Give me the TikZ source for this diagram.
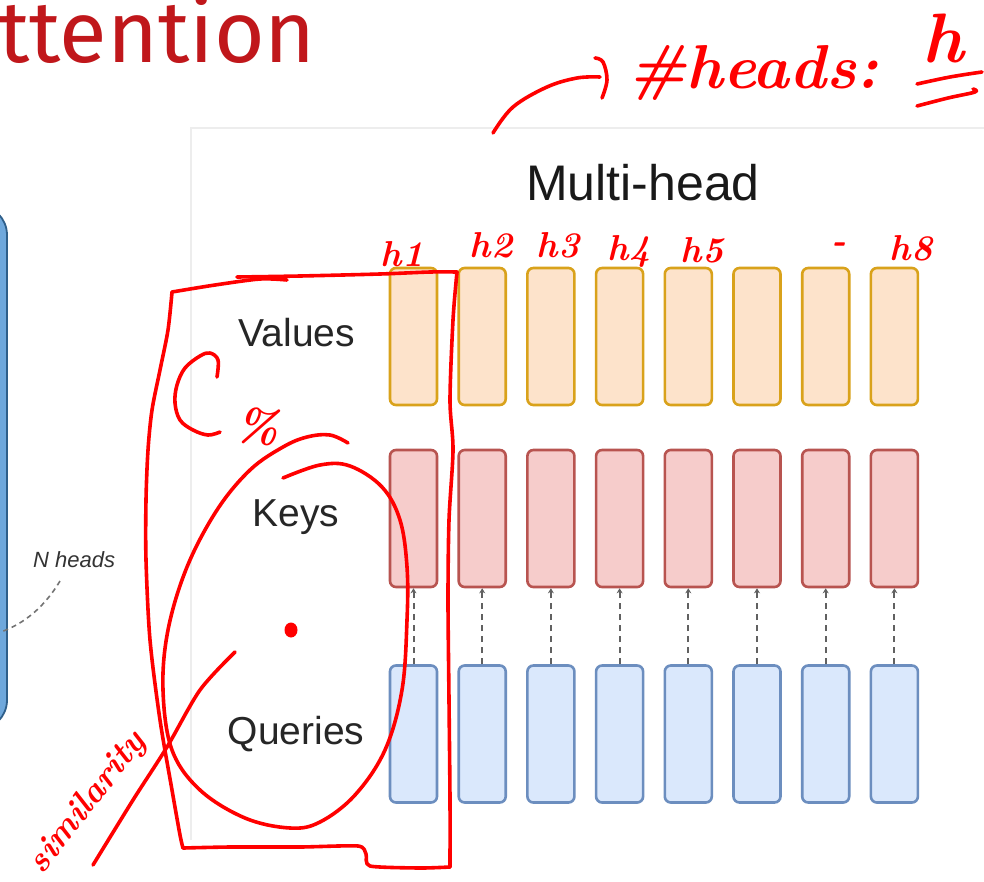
\documentclass[tikz,border=0pt]{standalone}
\usepackage{fontspec}
\setmainfont{Liberation Sans}
\newfontfamily\titlefont{Fira Sans}
\newfontfamily\handfont{Latin Modern Roman}
\usetikzlibrary{arrows.meta}

\definecolor{titlered}{RGB}{192,23,27}
\definecolor{pen}{RGB}{255,0,0}
\definecolor{valfill}{HTML}{FDE3CB}
\definecolor{valdraw}{HTML}{D9A21B}
\definecolor{keyfill}{HTML}{F6CCCB}
\definecolor{keydraw}{HTML}{B85450}
\definecolor{qfill}{HTML}{DAE8FC}
\definecolor{qdraw}{HTML}{6C8EBF}
\definecolor{panelblue}{HTML}{6FA8DC}
\definecolor{paneledge}{HTML}{2F5F8A}
\definecolor{frame}{HTML}{EDEDED}

\tikzset{
  headbox/.style={rounded corners=6pt, line width=2.6pt, minimum width=47pt,
                  minimum height=137pt, inner sep=0pt},
  vbox/.style={headbox, draw=valdraw, fill=valfill},
  kbox/.style={headbox, draw=keydraw, fill=keyfill},
  qbox/.style={headbox, draw=qdraw, fill=qfill},
  rowlabel/.style={font=\fontsize{39}{39}\selectfont, text=black!85, inner sep=0pt},
  link/.style={dashed, dash pattern=on 6pt off 5pt, line width=2pt, draw=black!62,
               -{Stealth[length=5pt,width=6pt]}},
  ink/.style={draw=pen, line width=3.6pt, line cap=round, line join=round},
  hand/.style={text=pen, inner sep=0pt, font=\handfont\bfseries\itshape},
}

\begin{document}
\begin{tikzpicture}[x=1pt, y=-1pt]
  \useasboundingbox (0,0) rectangle (984,881);
  \clip (0,0) rectangle (984,881);
  \fill[white] (0,0) rectangle (984,881);

  % slide title (cut at the left edge)
  \node[anchor=base west, inner sep=0pt, text=titlered,
        font=\titlefont\fontsize{87}{87}\selectfont] (title) at (-2,62) {ttention};

  % left encoder block, mostly outside the slide area
  \draw[fill=panelblue, draw=paneledge, line width=1.8pt, rounded corners=30pt]
        (-80,205) rectangle (7,730);
  \node[anchor=base west, inner sep=0pt, text=black!80,
        font=\itshape\fontsize{22}{22}\selectfont] (nheads) at (33,567) {N heads};
  \coordinate (arcA) at (60,581);
  \coordinate (arcB) at (-2,633);
  \draw[dashed, dash pattern=on 5pt off 4pt, draw=black!55, line width=1.6pt]
        (arcA) .. controls (45,606) and (25,624) .. (arcB);

  % multi-head figure frame
  \draw[frame, line width=1.5pt] (191,840) -- (191,128) -- (990,128);
  \node[font=\fontsize{50}{50}\selectfont, text=black!90, inner sep=0pt] (mh) at (643,183) {Multi-head};

  \node[rowlabel] (lv) at (297,333) {Values};
  \node[rowlabel] (lk) at (296,517) {Keys};
  \node[rowlabel] (lq) at (296,734) {Queries};

  \foreach \i in {1,...,8} {
    \pgfmathsetmacro\cx{413.5+68.7*(\i-1)}
    \node[vbox] (v\i) at (\cx,336.5) {};
    \node[kbox] (k\i) at (\cx,518.5) {};
    \node[qbox] (q\i) at (\cx,734) {};
    \draw[link] (q\i.north) -- (k\i.south);
  }

  % ---- red pen notes ----
  % arrow towards the number of heads
  \draw[ink] plot[smooth, tension=0.6] coordinates {(493,133) (513,107) (547,87) (577,78) (600,77)};
  \draw[ink] plot[smooth, tension=0.6] coordinates {(595,58) (603,62) (607,80) (602,98)};
  \node[hand, anchor=base west, font=\handfont\bfseries\itshape\fontsize{62}{62}\selectfont] (nh) at (628,88) {\#heads:};
  \node[hand, anchor=base, font=\handfont\bfseries\itshape\fontsize{70}{70}\selectfont] (hh) at (943,62) {h};
  \draw[ink] plot[smooth, tension=0.6] coordinates {(917,84) (950,77) (982,72)};
  \draw[ink] plot[smooth, tension=0.6] coordinates {(917,106) (948,98) (975,92) (973,89)};

  % head labels
  \begin{scope}[every node/.style={hand, anchor=base, font=\handfont\bfseries\itshape\fontsize{36}{36}\selectfont}]
    \node (h1) at (402,266) {h1};
    \node (h2) at (491,257) {h2};
    \node (h3) at (558,257) {h3};
    \node (h4) at (629,260) {h4};
    \node (h5) at (702,262) {h5};
    \node (hd) at (839,252) {-};
    \node (h8) at (911,260) {h8};
  \end{scope}

  % box round the first head
  \draw[ink] plot[smooth, tension=0.5] coordinates {(172,292) (215,285) (260,279) (287,280)};
  \draw[ink] plot[smooth, tension=0.5] coordinates {(237,277) (300,276) (380,274) (430,272) (457,272)};
  \draw[ink] plot[smooth, tension=0.5] coordinates {(457,272) (453,320) (450,400) (453,450) (449,520)
        (448,600) (449,700) (450,800) (450,867)};
  \draw[ink] plot[smooth, tension=0.4] coordinates {(450,867) (420,868) (370,866) (366,854) (358,846)
        (300,847) (230,847) (183,848)};
  \draw[ink] plot[smooth, tension=0.5] coordinates {(183,848) (180,835) (172,790) (160,720) (150,640)
        (146,560) (146,500) (148,450) (152,410) (160,370) (168,330) (172,292)};

  % curved arrow and percent sign
  \draw[ink] plot[smooth, tension=0.6] coordinates {(217,377) (218,360) (210,353) (200,356) (185,368)
        (177,385) (175,403) (180,420) (193,430) (208,435) (220,432)};
  \node[hand, font=\handfont\bfseries\itshape\fontsize{46}{46}\selectfont, rotate=-5] (pct) at (258,426) {\%};

  % loop round keys and queries
  \draw[ink] plot[smooth, tension=0.6] coordinates {(348,443) (330,435) (307,437) (283,447) (250,470)
        (217,510) (187,567) (168,630) (163,690) (172,750) (200,790) (245,818) (290,828) (320,822)
        (355,795) (385,750) (402,690) (407,620) (407,567) (400,520) (382,487) (350,466) (320,465) (283,478)};
  \fill[pen] (291,630) ellipse [x radius=6.5pt, y radius=7.5pt];
  \draw[ink] plot[smooth, tension=0.5] coordinates {(235,652) (200,690) (167,747) (133,800) (93,865)};
  \node[hand, font=\handfont\bfseries\itshape\fontsize{35}{35}\selectfont, rotate=52] (sim) at (88,803) {similarity};
\end{tikzpicture}
\end{document}
